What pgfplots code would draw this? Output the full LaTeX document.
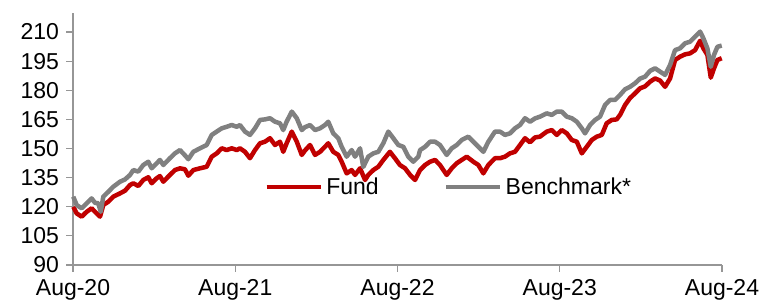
\documentclass[border=0pt]{standalone}
\usepackage{pgfplots}
\pgfplotsset{compat=1.18}
\usepackage{pgfplotstable}
\usepackage{fontspec}
\setmainfont{Liberation Sans}
\definecolor{fundred}{RGB}{192,0,0}
\definecolor{benchgray}{RGB}{128,128,128}
\definecolor{axisgray}{RGB}{150,150,150}

\pgfplotstableread{
m v
0.02 125.2
0.27 120.9
0.64 119.2
0.89 120.9
1.13 122.6
1.38 124.3
1.63 122.0
1.87 121.8
2.05 117.4
2.24 125.2
2.61 127.7
2.98 130.3
3.48 132.9
3.85 134.1
4.22 136.4
4.46 138.9
4.83 138.1
5.20 141.5
5.57 143.2
5.82 139.8
6.19 142.4
6.43 144.1
6.68 141.5
7.17 145.0
7.54 147.5
7.91 149.2
8.28 146.5
8.53 144.5
8.90 148.3
9.39 150.1
9.89 151.8
10.26 157.0
10.63 158.7
11.00 160.4
11.37 161.2
11.74 162.1
12.11 161.2
12.35 162.1
12.72 158.7
13.09 157.0
13.46 160.4
13.83 164.7
14.20 165.0
14.57 165.6
14.94 163.8
15.31 163.0
15.55 159.5
15.80 163.8
16.18 169.0
16.55 165.6
16.92 159.5
17.16 161.0
17.53 162.1
17.90 159.5
18.27 160.4
18.64 162.1
18.88 163.8
19.25 157.8
19.62 155.3
19.87 150.9
20.24 145.8
20.61 149.2
20.86 145.8
21.23 150.1
21.47 140.5
21.84 145.8
22.21 147.5
22.58 148.3
22.95 152.7
23.32 158.7
23.69 155.3
24.06 151.8
24.43 150.9
24.80 145.8
25.17 143.2
25.54 145.8
25.67 149.2
26.04 150.9
26.41 153.5
26.78 153.5
27.14 151.8
27.64 146.7
28.01 150.1
28.38 151.8
28.75 154.4
29.24 156.1
29.61 153.5
29.98 150.9
30.35 148.3
30.72 153.5
31.21 158.7
31.58 158.7
31.95 157.0
32.32 157.8
32.69 160.4
33.06 162.1
33.43 165.6
33.80 163.8
34.17 165.5
34.54 166.4
35.04 168.1
35.41 167.3
35.78 169.0
36.15 169.0
36.52 166.4
36.89 165.6
37.26 163.8
37.63 160.4
37.87 157.8
38.24 162.1
38.61 164.7
38.98 166.4
39.35 172.4
39.72 175.0
40.09 175.0
40.46 177.6
40.83 180.5
41.20 181.8
41.57 183.6
41.94 186.0
42.31 187.0
42.68 190.0
43.05 191.3
43.42 189.6
43.79 187.9
44.16 193.0
44.53 200.7
44.90 201.6
45.27 204.2
45.64 205.0
46.01 207.6
46.38 210.2
46.62 206.8
46.92 201.6
47.17 192.1
47.41 198.2
47.66 202.4
47.98 203.0
}\benchdata

\pgfplotstableread{
m v
0.02 120.0
0.27 116.6
0.64 114.9
1.01 117.4
1.38 119.2
1.63 117.4
2.00 114.9
2.24 120.9
2.61 122.6
2.98 125.2
3.48 126.9
3.85 128.3
4.22 131.2
4.46 132.1
4.83 130.7
5.20 133.8
5.57 135.2
5.82 132.1
6.19 134.7
6.43 135.8
6.68 132.9
7.17 136.4
7.54 138.9
7.91 139.8
8.28 139.3
8.53 136.0
8.90 138.9
9.39 139.8
9.89 140.6
10.26 145.8
10.63 147.5
11.00 150.1
11.37 149.2
11.74 150.1
12.11 149.2
12.35 150.1
12.72 148.3
13.09 145.0
13.46 149.2
13.83 152.7
14.20 153.5
14.57 155.3
14.94 151.8
15.31 153.5
15.55 148.3
15.80 152.7
16.18 158.7
16.55 153.5
16.92 146.7
17.16 149.0
17.53 151.8
17.90 146.7
18.27 148.3
18.64 150.9
18.88 152.7
19.25 148.3
19.62 146.7
19.87 143.2
20.24 137.2
20.61 138.9
20.86 136.4
21.23 139.8
21.60 133.8
21.84 136.4
22.21 138.9
22.58 140.6
22.95 144.1
23.44 148.3
23.81 145.0
24.18 141.5
24.56 139.8
24.93 136.4
25.30 133.8
25.67 138.9
26.04 141.5
26.41 143.2
26.78 144.1
27.14 141.5
27.64 136.4
28.01 139.8
28.38 142.4
28.75 144.1
29.12 145.8
29.61 143.2
29.98 141.5
30.35 137.2
30.72 141.5
31.21 145.0
31.58 145.0
31.95 145.8
32.32 147.5
32.69 148.3
33.06 151.8
33.43 155.3
33.80 153.2
34.17 155.7
34.54 156.1
35.04 158.7
35.41 159.5
35.78 157.0
36.15 159.5
36.52 157.8
36.89 154.4
37.26 153.5
37.63 147.5
38.00 150.9
38.37 154.4
38.74 156.1
39.11 157.0
39.47 163.0
39.84 164.7
40.21 165.0
40.46 167.3
40.83 172.4
41.20 176.0
41.57 178.4
41.94 181.0
42.31 182.0
42.68 184.4
43.05 186.1
43.42 185.0
43.79 181.8
44.16 186.1
44.53 195.6
44.90 197.3
45.27 198.5
45.64 199.0
46.01 200.7
46.38 205.5
46.62 201.6
46.92 198.2
47.17 186.5
47.41 191.3
47.66 195.6
47.98 196.5
}\funddata

\begin{document}
\begin{tikzpicture}
\begin{axis}[
  at={(0,0)}, anchor=south west,
  scale only axis,
  width=649bp, height=252.4bp,
  xmin=0, xmax=48, ymin=90, ymax=220,
  xtick={0,12,24,36,48},
  xticklabels={Aug-20,Aug-21,Aug-22,Aug-23,Aug-24},
  ytick={90,105,120,135,150,165,180,195,210},
  axis x line*=bottom, axis y line*=left,
  axis line style={axisgray, line width=1.2bp},
  tick style={axisgray, line width=1.2bp},
  tick align=outside,
  major tick length=6.5bp,
  /pgf/number format/assume math mode=true,
  ticklabel style={font=\fontsize{23bp}{27bp}\selectfont, black},
  yticklabel style={xshift=-4bp},
  xticklabel style={yshift=-4bp},
  clip=false,
  legend columns=2,
  legend style={draw=none, fill=none, at={(0.2948,0.31)}, anchor=west,
    inner sep=0pt, outer sep=0pt,
    font=\fontsize{23bp}{27bp}\selectfont,
    nodes={inner sep=0pt, outer sep=0pt},
    /tikz/every even column/.append style={column sep=65bp},
    /tikz/every odd column/.append style={column sep=3.5bp}},
  legend image code/.code={\draw[#1] (0bp,0bp) -- (54bp,0bp);},
]
\addplot[fundred, line width=4.5bp, line join=round] table[x=m, y=v] {\funddata};
\addlegendentry{Fund}
\addplot[benchgray, line width=4.5bp, line join=round] table[x=m, y=v] {\benchdata};
\addlegendentry{Benchmark*}
\end{axis}
\pgfresetboundingbox
\path (-73bp,-40bp) rectangle (689bp,265bp);
\end{tikzpicture}
\end{document}
